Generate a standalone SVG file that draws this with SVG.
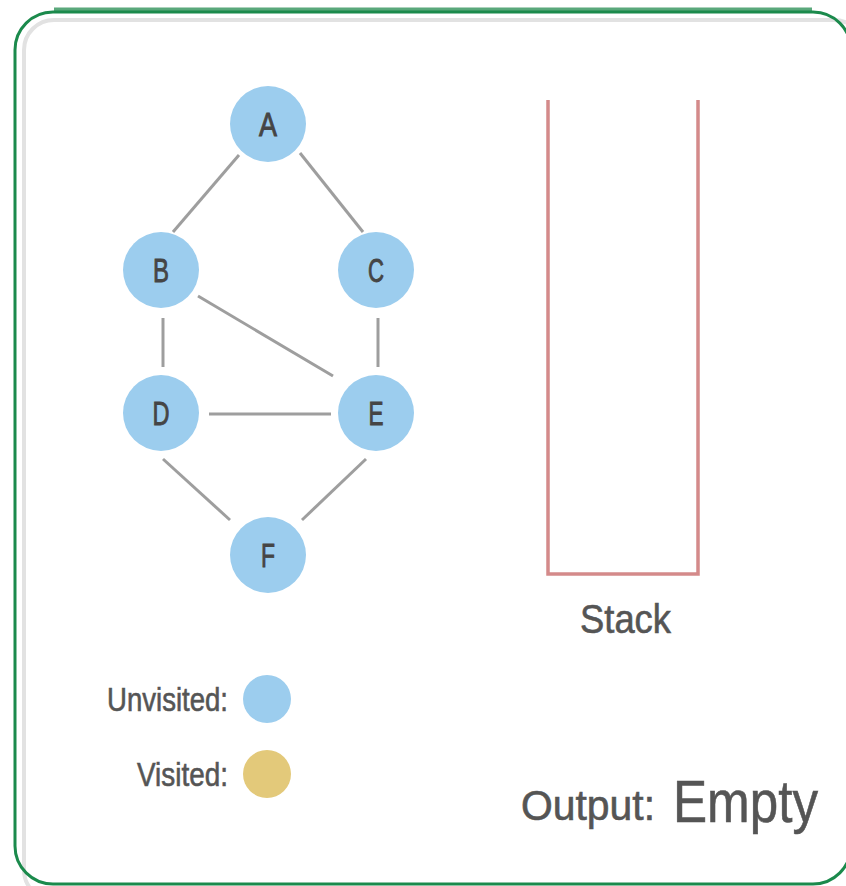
<svg xmlns="http://www.w3.org/2000/svg" width="846" height="886" viewBox="0 0 846 886">
  <style>
    .edge { stroke: #9e9e9e; stroke-width: 3; stroke-linecap: butt; fill: none; }
    .node circle { fill: #9ccdee; }
    .node text { font-family: "Liberation Sans", Arial, sans-serif; font-size: 33px; fill: #454545; stroke: #454545; stroke-width: 0.9; text-anchor: middle; }
    .label { font-family: "Liberation Sans", Arial, sans-serif; fill: #555555; stroke: #555555; stroke-width: 0.6; }
    .stack { stroke: #d48a8a; stroke-width: 3.5; fill: none; }
  </style>

  <rect width="846" height="886" fill="#ffffff"/>

  <!-- frame -->
  <g id="frame">
    <rect x="24" y="20" width="840" height="880" rx="30" fill="none" stroke="#e2e2e2" stroke-width="4"/>
    <line x1="54" y1="10" x2="812" y2="10" stroke="#5aa87b" stroke-width="5"/>
    <rect x="15" y="12" width="836" height="872" rx="38" fill="none" stroke="#1b8a4c" stroke-width="3"/>
  </g>

  <!-- graph edges -->
  <g id="connectors">
    <line class="edge" x1="239" y1="155" x2="173" y2="232"/>
    <line class="edge" x1="300" y1="153" x2="363" y2="232"/>
    <line class="edge" x1="163" y1="318" x2="163" y2="367"/>
    <line class="edge" x1="378" y1="318" x2="378" y2="367" stroke="#c4c4c4" stroke-width="4"/>
    <line class="edge" x1="198" y1="296" x2="333" y2="376"/>
    <line class="edge" x1="209" y1="414" x2="331" y2="414"/>
    <line class="edge" x1="163" y1="459" x2="230" y2="520"/>
    <line class="edge" x1="366" y1="459" x2="302" y2="520"/>
  </g>

  <!-- graph nodes -->
  <g id="node-A" class="node"><circle cx="268" cy="124" r="38"/><text x="268" y="136" textLength="18" lengthAdjust="spacingAndGlyphs">A</text></g>
  <g id="node-B" class="node"><circle cx="161" cy="270" r="38"/><text x="161" y="282" textLength="16" lengthAdjust="spacingAndGlyphs">B</text></g>
  <g id="node-C" class="node"><circle cx="376" cy="270" r="38"/><text x="376" y="282" textLength="16" lengthAdjust="spacingAndGlyphs">C</text></g>
  <g id="node-D" class="node"><circle cx="161" cy="413" r="38"/><text x="161" y="425" textLength="17" lengthAdjust="spacingAndGlyphs">D</text></g>
  <g id="node-E" class="node"><circle cx="376" cy="413" r="38"/><text x="376" y="425" textLength="15" lengthAdjust="spacingAndGlyphs">E</text></g>
  <g id="node-F" class="node"><circle cx="268" cy="555" r="38"/><text x="268" y="567" textLength="14" lengthAdjust="spacingAndGlyphs">F</text></g>

  <!-- stack container -->
  <g id="stack">
    <path class="stack" d="M548,100 V574 H698 V100"/>
    <text class="label" x="580" y="633" font-size="40" textLength="91" lengthAdjust="spacingAndGlyphs">Stack</text>
  </g>

  <!-- legend -->
  <g id="legend">
    <text class="label" x="107" y="711" font-size="33" textLength="121" lengthAdjust="spacingAndGlyphs">Unvisited:</text>
    <circle cx="267" cy="699" r="24" fill="#9ccdee"/>
    <text class="label" x="137" y="786" font-size="33" textLength="91" lengthAdjust="spacingAndGlyphs">Visited:</text>
    <circle cx="267" cy="774" r="24" fill="#e3c97a"/>
  </g>

  <!-- output -->
  <g id="output">
    <text class="label" x="521" y="820" font-size="42" textLength="134" lengthAdjust="spacingAndGlyphs">Output:</text>
    <text class="label" x="673" y="822" font-size="60" fill="#777777" stroke="#777777" stroke-width="0.4" textLength="145" lengthAdjust="spacingAndGlyphs">Empty</text>
  </g>
</svg>
